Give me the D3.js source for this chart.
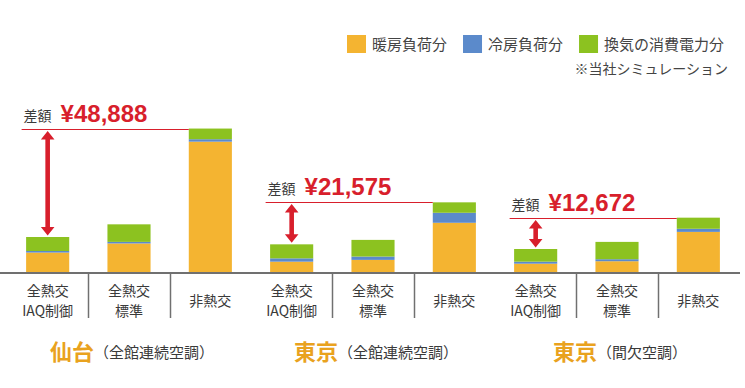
<!DOCTYPE html>
<html lang="ja">
<head>
<meta charset="utf-8">
<script src="https://cdn.jsdelivr.net/npm/d3@7/dist/d3.min.js"></script>
<style>
  html, body { margin: 0; padding: 0; background: #fff; }
  svg { display: block; }
</style>
</head>
<body>
<div id="chart"></div>
<script>
(function () {
  'use strict';

  /* --- データ（画像から読み取り、単位：円） ------------------------------ */
  var groups     = ['仙台', '東京', '東京'];
  var groupNotes = ['（全館連続空調）', '（全館連続空調）', '（間欠空調）'];
  var typeLabels = [['全熱交', 'IAQ制御'], ['全熱交', '標準'], ['非熱交']];
  var seriesKeys   = ['heating', 'cooling', 'ventilation'];
  var seriesLabels = ['暖房負荷分', '冷房負荷分', '換気の消費電力分'];
  var heating     = [9200, 13300, 59100, 5100, 5900, 22600, 4200, 5300, 18500];
  var cooling     = [700, 700, 1100, 1500, 1500, 4500, 900, 900, 1400];
  var ventilation = [6300, 7900, 4800, 6300, 7500, 4700, 5700, 7800, 5000];
  var diffLabels  = ['¥48,888', '¥21,575', '¥12,672'];
  var noteText    = '※当社シミュレーション';

  /* --- 見た目 ------------------------------------------------------------ */
  var W = 745, H = 388;
  var colors = { heating: '#F4B431', cooling: '#5B8ACB', ventilation: '#8CC220' };
  var red = '#D81F2C', ink = '#3A3A3A', axisCol = '#707070', titleCol = '#E9A21E';
  var jp = '"Noto Sans CJK JP", "Noto Sans", sans-serif';
  var latin = '"Liberation Sans", Arial, sans-serif';

  /* 行データ */
  var rows = [];
  groups.forEach(function (g, gi) {
    typeLabels.forEach(function (t, ti) {
      var i = gi * 3 + ti;
      rows.push({ id: 'c' + i, group: gi, type: ti, heating: heating[i], cooling: cooling[i], ventilation: ventilation[i] });
    });
  });
  rows.forEach(function (r) { r.total = r.heating + r.cooling + r.ventilation; });

  /* --- スケール ---------------------------------------------------------- */
  var baseY = 273;
  var x = d3.scaleBand().domain(rows.map(function (r) { return r.id; }))
    .range([7, 739]).paddingInner(0.47).paddingOuter(0.235);
  var y = d3.scaleLinear().domain([0, 60000]).range([baseY, baseY - 60000 / 450]);
  var bw = x.bandwidth(), step = x.step();

  var svg = d3.select('#chart').append('svg').attr('width', W).attr('height', H);

  /* --- 積み上げ棒 -------------------------------------------------------- */
  var stacked = d3.stack().keys(seriesKeys)(rows);
  svg.append('g').selectAll('g').data(stacked).join('g')
    .attr('fill', function (s) { return colors[s.key]; })
    .selectAll('rect').data(function (s) { return s; }).join('rect')
    .attr('x', function (d) { return x(d.data.id); })
    .attr('y', function (d) { return y(d[1]); })
    .attr('width', bw)
    .attr('height', function (d) { return y(d[0]) - y(d[1]); });

  /* --- 軸線と区切り ------------------------------------------------------ */
  svg.append('line')
    .attr('x1', 0).attr('x2', 740).attr('y1', baseY).attr('y2', baseY)
    .attr('stroke', axisCol).attr('stroke-width', 2);

  var dividers = rows.filter(function (r) { return r.type < 2; });
  svg.append('g').selectAll('line').data(dividers).join('line')
    .attr('x1', function (r) { return Math.round(x(r.id) + bw / 2 + step / 2) + 0.5; })
    .attr('x2', function (r) { return Math.round(x(r.id) + bw / 2 + step / 2) + 0.5; })
    .attr('y1', baseY).attr('y2', 318)
    .attr('stroke', axisCol).attr('stroke-width', 1.5);

  /* --- カテゴリラベル ---------------------------------------------------- */
  var catG = svg.append('g').attr('font-family', jp).attr('font-size', 14)
    .attr('fill', ink).attr('text-anchor', 'middle');
  rows.forEach(function (r) {
    var lines = typeLabels[r.type];
    var cx = x(r.id) + bw / 2;
    if (lines.length === 1) {
      catG.append('text').attr('x', cx).attr('y', 306).text(lines[0]);
    } else {
      catG.append('text').attr('x', cx).attr('y', 295.5).text(lines[0]);
      catG.append('text').attr('x', cx).attr('y', 316).text(lines[1]);
    }
  });

  /* --- グループ見出し ---------------------------------------------------- */
  groups.forEach(function (g, gi) {
    var mid = rows[gi * 3 + 1];
    var cx = x(mid.id) + bw / 2;
    var t = svg.append('text').attr('y', 359.5).attr('font-family', jp);
    t.append('tspan').attr('font-size', 22).attr('font-weight', 700).attr('fill', titleCol).text(g);
    t.append('tspan').attr('font-size', 15).attr('fill', ink).attr('dy', -1.5).text(groupNotes[gi]);
    var w = t.node().getComputedTextLength();
    t.attr('x', cx - w / 2 + 3);
  });

  /* --- 差額の注記 -------------------------------------------------------- */
  groups.forEach(function (g, gi) {
    var a = rows[gi * 3], c = rows[gi * 3 + 2];
    var lineY = Math.round(y(c.total)) + 0.5;
    var x0 = x(a.id) - 4.5;
    svg.append('line')
      .attr('x1', x0).attr('x2', x(c.id)).attr('y1', lineY).attr('y2', lineY)
      .attr('stroke', red).attr('stroke-width', 1);

    svg.append('text')
      .attr('x', x0 + 2).attr('y', lineY - 9)
      .attr('font-family', jp).attr('font-size', 14).attr('fill', ink)
      .text('差額');
    svg.append('text')
      .attr('x', x0 + 39).attr('y', lineY - 8)
      .attr('font-family', latin).attr('font-size', 24).attr('font-weight', 700)
      .attr('fill', red).text(diffLabels[gi]);

    /* 両矢印 */
    var ax = x(a.id) + bw / 2;
    var top = lineY + 1.5, bot = y(a.total) - 1.5;
    var hw = 6.8, sw = 2.3, hl = 8.5;
    var p = d3.path();
    p.moveTo(ax, top);
    p.lineTo(ax + hw, top + hl); p.lineTo(ax + sw, top + hl);
    p.lineTo(ax + sw, bot - hl); p.lineTo(ax + hw, bot - hl);
    p.lineTo(ax, bot);
    p.lineTo(ax - hw, bot - hl); p.lineTo(ax - sw, bot - hl);
    p.lineTo(ax - sw, top + hl); p.lineTo(ax - hw, top + hl);
    p.closePath();
    svg.append('path').attr('d', p.toString()).attr('fill', red);
  });

  /* --- 凡例 -------------------------------------------------------------- */
  var lg = svg.append('g').attr('font-family', jp).attr('font-size', 15).attr('fill', '#444');
  var lx = 347;
  seriesKeys.forEach(function (k, i) {
    lg.append('rect').attr('x', lx).attr('y', 35).attr('width', 19).attr('height', 18)
      .attr('fill', colors[k]);
    var t = lg.append('text').attr('x', lx + 25).attr('y', 49.5).text(seriesLabels[i]);
    lx = lx + 25 + t.node().getComputedTextLength() + 16;
  });
  svg.append('text')
    .attr('x', 728).attr('y', 73.5).attr('text-anchor', 'end')
    .attr('font-family', jp).attr('font-size', 14).attr('fill', '#444')
    .text(noteText);
})();
</script>
</body>
</html>
